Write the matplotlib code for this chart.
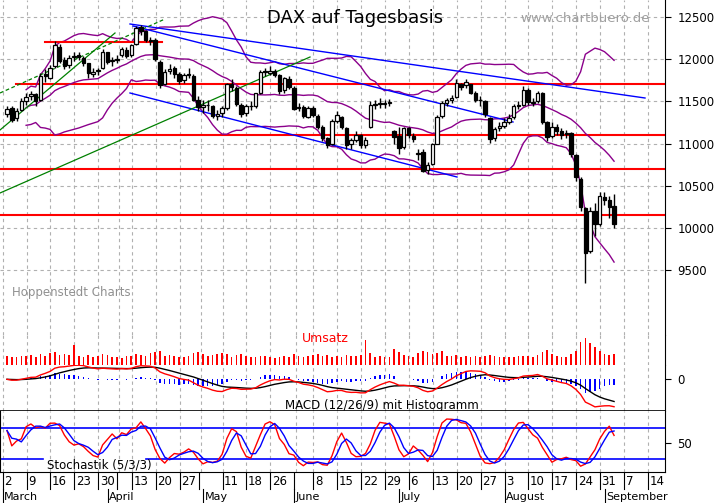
import numpy as np
import pandas as pd
import matplotlib
matplotlib.use("Agg")
import matplotlib.pyplot as plt

# ---------------- data ----------------
closes = [11410,11280,11390,11504,11551,11582,11500,11805,11799,11901,12168,11980,11922,12010,12040,12020,11960,11840,11850,11870,12086,11966,
          11990,12001,12123,12035,12166,12375,12338,12227,12231,11998,11688,11850,11880,11820,11740,11810,11811,11520,11430,11454,
          11452,11328,11350,11416,11709,11672,11470,11352,11447,11447,11594,11848,11849,11864,11815,11625,11771,11673,11413,
          11436,11327,11419,11340,11197,11064,10985,11265,11333,11196,10984,11044,11100,10978,11040,11460,11471,11471,11473,11492,11083,10945,
          11181,11099,11058,10891,10676,10747,10997,11316,11484,11516,11540,11717,11673,11734,11604,11520,11512,11347,11056,11173,11212,11257,11308,
          11443,11456,11636,11490,11490,11604,11250,11080,11200,11150,11100,11120,10870,10600,10250,9700,10200,10050,10380,10330,10250,
          10050]
opens = [11350,11420,11300,11400,11500,11560,11590,11510,11820,11780,11920,12150,11990,11930,12020,12050,12010,11950,11830,11860,11900,12080,
         11980,11990,12050,12110,12050,12180,12380,12330,12220,12230,11970,11700,11860,11890,11830,11750,11820,11800,11520,11430,
         11460,11440,11330,11360,11420,11700,11660,11460,11360,11440,11450,11600,11850,11840,11860,11810,11630,11770,11660,
         11420,11430,11320,11420,11330,11200,11060,10990,11270,11320,11180,10990,11040,11100,10980,11200,11460,11470,11470,11480,11150,11090,
         10960,11180,11090,10880,10900,10690,10760,11000,11330,11480,11510,11550,11700,11690,11700,11600,11520,11500,11300,11060,11180,11210,11260,
         11310,11440,11460,11640,11480,11500,11600,11250,11090,11200,11150,11110,11120,10860,10580,10230,9720,10200,10040,10370,10330,
         10260]
highs = [11440,11440,11420,11540,11600,11620,11600,11840,11880,11930,12220,12180,12020,12050,12080,12090,12040,11960,11890,11900,12120,12090,
         12030,12050,12150,12150,12180,12390,12400,12340,12260,12250,11990,11880,11940,11920,11850,11840,11900,11820,11560,11520,
         11520,11460,11400,11440,11720,11760,11680,11480,11470,11500,11600,11870,11900,11920,11880,11820,11790,11800,11680,
         11480,11460,11440,11440,11350,11220,11080,11290,11380,11330,11190,11070,11150,11110,11080,11500,11520,11540,11520,11530,11160,11200,
         11200,11200,11120,10930,10930,10780,11010,11340,11500,11540,11580,11760,11720,11760,11710,11620,11560,11510,11310,11200,11260,11300,11350,
         11470,11500,11680,11660,11540,11620,11610,11270,11260,11230,11180,11160,11140,10880,10600,10250,10250,10300,10420,10420,10380,
         10400]
lows = [11320,11250,11270,11380,11460,11520,11450,11500,11730,11760,11900,11950,11880,11900,11980,11990,11920,11780,11790,11810,11880,11940,
        11920,11950,12020,12010,12030,12170,12290,12200,12170,11980,11660,11690,11820,11780,11700,11720,11780,11500,11380,11360,
        11390,11300,11280,11320,11400,11620,11440,11320,11330,11400,11420,11590,11800,11810,11790,11590,11600,11650,11400,
        11380,11300,11300,11320,11170,11030,10950,10980,11240,11170,10940,10930,11020,10950,10950,11180,11410,11420,11420,11440,10990,10880,
        10940,11070,11020,10800,10660,10640,10740,10990,11300,11450,11480,11540,11640,11660,11590,11490,11450,11320,11010,11030,11150,11180,11230,
        11290,11410,11440,11460,11450,11480,11230,11030,11060,11100,11050,11060,10840,10560,10200,9340,9700,9900,10020,10270,10120,
        10000]
volume = [90,80,85,95,90,100,85,110,95,120,130,100,115,105,200,90,85,100,80,95,110,100,
          85,80,75,90,95,110,100,95,120,130,140,95,100,90,85,80,95,120,130,110,
          90,100,110,120,115,85,100,110,90,80,85,95,90,80,70,85,90,80,110,
          90,85,95,100,110,95,100,85,90,80,105,95,90,100,250,120,85,90,80,85,160,130,
          100,90,80,120,140,130,110,120,140,95,90,100,85,90,80,95,85,90,100,90,85,80,85,
          85,90,95,90,80,100,130,150,110,95,80,85,110,140,230,270,220,180,140,110,100,
          110]
week_labels = ["2","9","16","23","30","13","20","27","11","18","26","8","15","22","29","6","13","20","27","3","10","17","24","31","7","14"]
week_pos    = [0,5,10,15,20,27,32,37,46,51,56,65,70,75,80,85,90,95,100,105,110,115,120,125,130,135]
blank_ticks = [24,41,61]
months      = ["March","April","May","June","July","August","September"]
month_pos   = [0,22,42,61,83,105,126]
hlines      = [11700,11100,10700,10150]

n = min(len(closes), len(opens), len(highs), len(lows), len(volume))
closes, opens, highs, lows, volume = [np.array(a[:n], float) for a in (closes, opens, highs, lows, volume)]
x = np.arange(n)

PXD, X0 = 4.78, 7.0
def dx(px): return (px - X0) / PXD
def py(px): return 12500 - (px - 17) * 3000 / 253

W, H = 723, 503
fig = plt.figure(figsize=(W/100, H/100), dpi=100)
def axp(top, bot, left=0, right=665):
    return fig.add_axes([left/W, 1-bot/H, (right-left)/W, (bot-top)/H])

xl = (dx(0), dx(665))
ax = axp(0, 335); axv = axp(335, 365); axm = axp(365, 411); axs = axp(411, 472)
for a in (ax, axv, axm, axs):
    a.set_xlim(*xl)
    a.set_xticks([])
    for sp in ("top", "bottom", "left"):
        a.spines[sp].set_visible(False)
    a.spines["right"].set_linewidth(0.8)
    a.set_facecolor("white")

def right_ticks(a):
    a.yaxis.tick_right()
    a.tick_params(axis="y", labelsize=8.5, length=4, pad=5)
    for t in a.get_yticklabels():
        pass

# ---- price ----
ax.set_ylim(py(335), py(0))
gl = [p - 0.4 for p in week_pos] + blank_ticks
for g in gl:
    for a in (ax, axv, axm, axs):
        a.axvline(g - 0.5, color="#b0b0b0", ls=(0, (3, 3)), lw=0.8, zorder=0)
for v in range(9500, 12501, 500):
    ax.axhline(v, color="#b0b0b0", ls=(0, (3, 3)), lw=0.8, zorder=0)
ax.set_yticks(range(9500, 12501, 500))
right_ticks(ax)

s = pd.Series(closes)
mid = s.rolling(20, min_periods=5).mean()
sd = s.rolling(20, min_periods=5).std()
for b in (mid + 2*sd, mid, mid - 2*sd):
    ax.plot(x, b, color="#8b008b", lw=1, zorder=2)

for y in hlines:
    ax.axhline(y, color="red", lw=1.5, zorder=1, xmin=(16/665 if y == 11700 else 0))
ax.plot([dx(45), dx(162)], [py(42), py(42)], color="red", lw=1.5)
ax.plot([dx(130), dx(645)], [py(24), py(98)], color="blue", lw=1)
ax.plot([dx(133), dx(513)], [py(26), py(122)], color="blue", lw=1)
ax.plot([dx(130), dx(457)], [py(93), py(177)], color="blue", lw=1)
ax.plot([dx(0), dx(310)], [py(193), py(57)], color="green", lw=0.9)
ax.plot([dx(0), dx(115)], [py(130), py(33)], color="green", lw=0.9)
ax.plot([dx(0), dx(165)], [py(93), py(19)], color="green", lw=0.9, ls=(0, (3, 2)))

for i in range(n):
    ax.vlines(x[i], lows[i], highs[i], color="black", lw=1, zorder=3)
    lo, hi = sorted((opens[i], closes[i]))
    up = closes[i] >= opens[i]
    ax.bar(x[i], max(hi - lo, 8), bottom=lo, width=0.72, color=("white" if up else "black"),
           edgecolor="black", lw=0.9, zorder=4)

ax.text(dx(355), py(18), "DAX auf Tagesbasis", fontsize=13, ha="center", va="center")
ax.text(dx(650), py(18), "www.chartbuero.de", fontsize=9.5, ha="right", va="center", color="#a0a0a0")
ax.text(dx(12), py(292), "Hoppenstedt Charts", fontsize=8.5, ha="left", va="center", color="#909090")

# ---- volume ----
axv.bar(x, volume, width=0.35, color="red")
axv.set_ylim(0, 300)
axv.set_yticks([])
axv.text(dx(325), 260, "Umsatz", color="red", fontsize=9, ha="center", va="center")

# ---- MACD ----
e12 = s.ewm(span=12, adjust=False).mean(); e26 = s.ewm(span=26, adjust=False).mean()
macd = e12 - e26; sig = macd.ewm(span=9, adjust=False).mean(); hist = macd - sig
m = max(abs(macd.min()), abs(macd.max()), 1)
axm.set_ylim(-m*1.15, m*1.15*(14/31))
axm.bar(x, hist, width=0.3, color="blue")
axm.plot(x, sig, color="black", lw=1)
axm.plot(x, macd, color="red", lw=1)
axm.set_yticks([0]); axm.set_yticklabels(["0"])
right_ticks(axm)
axm.text(dx(285), -m*0.95, "MACD (12/26/9) mit Histogramm", fontsize=8.5, ha="left", va="center")
axm.spines["bottom"].set_visible(True); axm.spines["bottom"].set_linewidth(1.2)

# ---- Stochastic ----
hh = pd.Series(highs).rolling(5, min_periods=1).max(); ll = pd.Series(lows).rolling(5, min_periods=1).min()
k = 100 * (s - ll) / (hh - ll)
ks = k.rolling(3, min_periods=1).mean(); d = ks.rolling(3, min_periods=1).mean()
axs.set_ylim(-5.2, 112.9)
axs.axhline(80, color="blue", lw=1.2)
axs.plot([dx(0), dx(43)], [20, 20], color="blue", lw=1.2)
axs.plot([dx(146), dx(665)], [20, 20], color="blue", lw=1.2)
axs.plot(x, ks, color="red", lw=1)
axs.plot(x, d, color="blue", lw=1)
axs.set_yticks([50]); axs.set_yticklabels(["50"])
right_ticks(axs)
axs.text(dx(47), 8, "Stochastik (5/3/3)", fontsize=8.5, ha="left", va="center")
axs.spines["bottom"].set_visible(True)
axs.spines["left"].set_visible(True)

# ---- date axis ----
axd = axp(472, 503)
axd.set_xlim(*xl); axd.set_ylim(0, 1); axd.axis("off")
for p, lab in zip(week_pos, week_labels):
    axd.plot([p - 0.9, p - 0.9], [0.45, 1], color="black", lw=0.8)
    axd.text(p - 0.6, 0.7, lab, fontsize=8.5, ha="left", va="center")
for p in blank_ticks:
    axd.plot([p - 0.9, p - 0.9], [0.45, 1], color="black", lw=0.8)
for p, lab in zip(month_pos, months):
    axd.plot([p - 0.9, p - 0.9], [0, 0.45], color="black", lw=0.8)
    axd.text(p - 0.6, 0.2, lab, fontsize=8, ha="left", va="center")

fig.savefig("out.png", dpi=100)
